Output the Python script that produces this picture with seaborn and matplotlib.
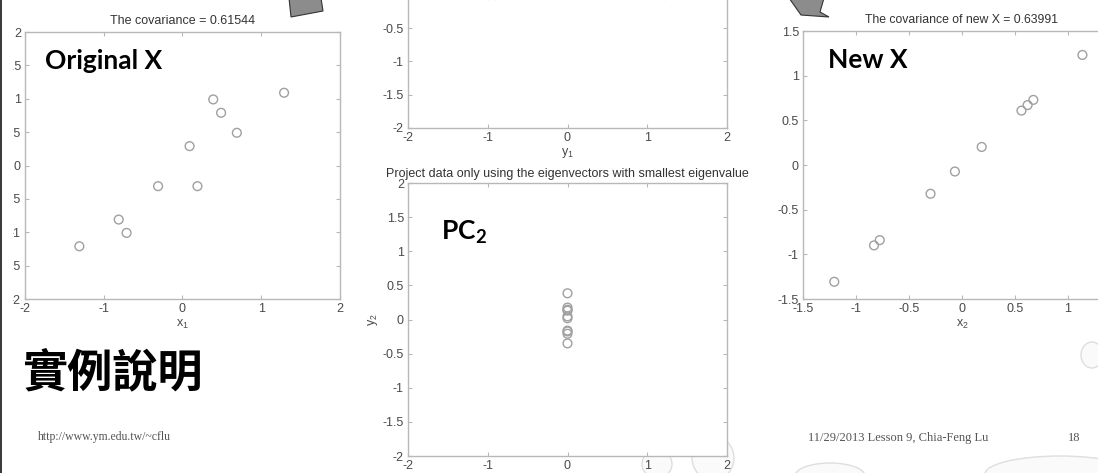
import matplotlib
matplotlib.use("Agg")
import matplotlib.pyplot as plt
from matplotlib.patches import Polygon, Rectangle, Ellipse
import pandas as pd
import seaborn as sns

# mean-adjusted original data
orig_x1 = [0.69, -1.31, 0.39, 0.09, 1.29, 0.49, 0.19, -0.81, -0.31, -0.71]
orig_x2 = [0.49, -1.21, 0.99, 0.29, 1.09, 0.79, -0.31, -0.81, -0.31, -1.01]
# projection on eigenvector with largest eigenvalue
proj_y1 = [-0.828, 1.778, -0.992, -0.274, -1.676, -0.913, 0.099, 1.145, 0.438, 1.224]
# projection on eigenvector with smallest eigenvalue
proj_y2 = [-0.175, 0.143, 0.384, 0.130, -0.209, 0.175, -0.350, 0.046, 0.018, -0.163]
# data rebuilt from the first component only
new_x1 = [0.561, -1.205, 0.673, 0.186, 1.136, 0.619, -0.067, -0.776, -0.297, -0.830]
new_x2 = [0.609, -1.307, 0.729, 0.202, 1.232, 0.671, -0.073, -0.841, -0.322, -0.900]

ticks_2 = [-2, -1, 0, 1, 2]
ticks_half_2 = [-2, -1.5, -1, -0.5, 0, 0.5, 1, 1.5, 2]
ticks_half_15 = [-1.5, -1, -0.5, 0, 0.5, 1, 1.5]
# parts of some panels fall off the slide
ticks_visible = [-2, -1.5, -1, -0.5]
ticks_right_x = [-1.5, -1, -0.5, 0, 0.5, 1]

W, H = 1098, 473

sns.set_style("ticks")
plt.rcParams["font.family"] = ["Liberation Sans", "DejaVu Sans"]
plt.rcParams["mathtext.fontset"] = "custom"
plt.rcParams["mathtext.rm"] = "Liberation Sans"
plt.rcParams["mathtext.it"] = "Liberation Sans"
plt.rcParams["mathtext.bf"] = "Lato:bold"

AX_GRAY = "#b8b8b8"
TXT_GRAY = "#4a4a4a"
MARK = "#a0a0a0"


def px_box(left, top, right, bottom):
    return [left / W, 1 - bottom / H, (right - left) / W, (bottom - top) / H]


def style_axes(ax, xlim, ylim, xticks, yticks):
    ax.set_xlim(*xlim)
    ax.set_ylim(*ylim)
    ax.set_xticks(xticks)
    ax.set_yticks(yticks)
    ax.set_xticklabels([f"{t:g}" for t in xticks])
    ax.set_yticklabels([f"{t:g}" for t in yticks])
    for s in ax.spines.values():
        s.set_visible(True)
        s.set_color(AX_GRAY)
        s.set_linewidth(1.0)
    ax.tick_params(which="both", direction="in", length=3, width=0.8, color=AX_GRAY,
                   labelsize=9, labelcolor=TXT_GRAY, top=True, right=True, pad=3)
    ax.set_facecolor("white")


def scatter(ax, x, y):
    df = pd.DataFrame({"x": x, "y": y})
    sns.scatterplot(data=df, x="x", y="y", ax=ax, marker="o", s=40,
                    facecolor="none", edgecolor=MARK, linewidth=1.0)
    ax.set_xlabel("")
    ax.set_ylabel("")


fig = plt.figure(figsize=(W / 100, H / 100), dpi=100)
fig.patch.set_facecolor("white")

# left: original data
ax1 = fig.add_axes(px_box(25, 32, 340, 299))
scatter(ax1, orig_x1, orig_x2)
style_axes(ax1, (-2, 2), (-2, 2), ticks_2, ticks_half_2)
ax1.set_title("The covariance = 0.61544", fontsize=9, color="#333333", pad=6)
ax1.set_xlabel("$x_1$", fontsize=9, color=TXT_GRAY, labelpad=2)
ax1.text(0.065, 0.89, "Original X", transform=ax1.transAxes, fontsize=19,
         family="Lato", weight="bold", color="black", va="center")

# middle top: projection on largest eigenvector
ax2 = fig.add_axes(px_box(408, -138, 727, 128))
scatter(ax2, proj_y1, [0] * len(proj_y1))
style_axes(ax2, (-2, 2), (-2, 2), ticks_2, ticks_visible)
ax2.set_yticks([0, 0.5, 1, 1.5, 2], minor=True)
ax2.set_xlabel("$y_1$", fontsize=9, color=TXT_GRAY, labelpad=1)

# middle bottom: projection on smallest eigenvector
ax3 = fig.add_axes(px_box(408, 183, 727, 456))
scatter(ax3, [0] * len(proj_y2), proj_y2)
style_axes(ax3, (-2, 2), (-2, 2), ticks_2, ticks_half_2)
ax3.set_title("Project data only using the eigenvectors with smallest eigenvalue",
              fontsize=9, color="#333333", pad=4)
ax3.set_ylabel("$y_2$", fontsize=9, color=TXT_GRAY, labelpad=2)
ax3.text(0.105, 0.82, r"PC$_\mathbf{2}$", transform=ax3.transAxes, fontsize=19,
         family="Lato", weight="bold", color="black", va="center")

# right: reconstructed data
ax4 = fig.add_axes(px_box(803, 31, 1121, 299))
scatter(ax4, new_x1, new_x2)
style_axes(ax4, (-1.5, 1.5), (-1.5, 1.5), ticks_right_x, ticks_half_15)
ax4.set_xticks([1.5], minor=True)
ax4.set_title("The covariance of new X = 0.63991", fontsize=8.8, color="#333333", pad=6)
ax4.set_xlabel("$x_2$", fontsize=9, color=TXT_GRAY, labelpad=2)
ax4.text(0.08, 0.89, "New X", transform=ax4.transAxes, fontsize=19,
         family="Lato", weight="bold", color="black", va="center")

# slide decorations
def fpx(pts):
    return [(x / W, 1 - y / H) for x, y in pts]

fig.add_artist(Polygon(fpx([(289, -2), (291, 17), (323, 11), (321, -2)]),
                       closed=True, facecolor="#8c8c8c", edgecolor="#333333",
                       linewidth=0.8, transform=fig.transFigure, zorder=5))
fig.add_artist(Polygon(fpx([(789, -2), (801, 15), (829, 17), (820, 12), (824, -2)]),
                       closed=True, facecolor="#8c8c8c", edgecolor="#333333",
                       linewidth=0.8, transform=fig.transFigure, zorder=5))
for cx, cy, w, h in [(1092, 355, 22, 26), (657, 464, 30, 28), (713, 458, 42, 44),
                     (830, 476, 70, 26), (1060, 474, 150, 36)]:
    fig.add_artist(Ellipse((cx / W, 1 - cy / H), w / W, h / H, facecolor="#fafafa",
                           edgecolor="#dedede", linewidth=1.0,
                           transform=fig.transFigure, zorder=-1))

# clip the left tick labels like the slide edge, plus dark border
fig.add_artist(Rectangle((0, 0), 13 / W, 1, facecolor="white", edgecolor="none",
                         transform=fig.transFigure, zorder=20))
fig.add_artist(Rectangle((0, 0), 2 / W, 1, facecolor="#3c3c3c", edgecolor="none",
                         transform=fig.transFigure, zorder=21))

fig.text(22 / W, 1 - 373 / H, "實例說明", fontsize=32.5, weight="bold",
         family=["Noto Sans CJK TC", "DejaVu Sans"], color="black", va="center", ha="left")
fig.text(38 / W, 1 - 437 / H, "http://www.ym.edu.tw/~cflu", fontsize=8.5,
         family="Liberation Serif", color="#555555", va="center")
fig.text(808 / W, 1 - 438 / H, "11/29/2013 Lesson 9, Chia-Feng Lu", fontsize=9,
         family="Liberation Serif", color="#555555", va="center")
fig.text(1074 / W, 1 - 438 / H, "18", fontsize=9, family="Liberation Serif",
         color="#555555", va="center", ha="center")

fig.savefig("out.png", dpi=100)
